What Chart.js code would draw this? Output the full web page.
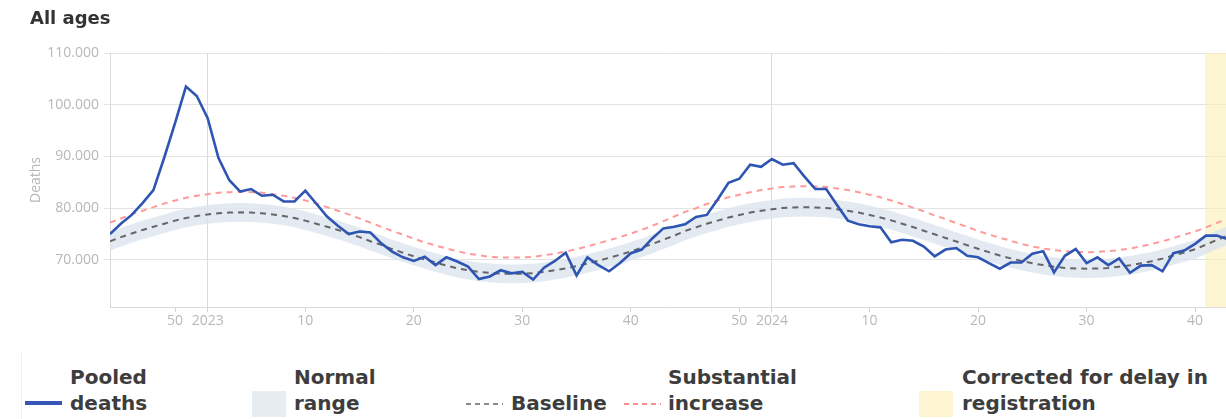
<!DOCTYPE html>
<html>
<head>
<meta charset="utf-8">
<script src="https://cdn.jsdelivr.net/npm/chart.js@4.4.1/dist/chart.umd.min.js"></script>
<style>
  body { margin: 0; background: #fff; width: 1226px; height: 419px; overflow: hidden; position: relative; }
  #wrap { position: absolute; left: 0; top: 0; width: 1226px; height: 345px; }
  #title { position: absolute; left: 30px; top: 7px; font: bold 18px/21px "DejaVu Sans", sans-serif; color: #333; }
  .leg { position: absolute; font: bold 20px/26px "DejaVu Sans", sans-serif; color: #3d3d3d; white-space: nowrap; }
  .box { position: absolute; top: 391px; width: 34px; height: 26px; }
  .sample { position: absolute; top: 399px; }
  #edge { position: absolute; left: 21px; top: 352px; width: 1px; height: 67px; background: #f1f1f1; }
</style>
</head>
<body>
<div id="wrap"><canvas id="chart"></canvas></div>
<div id="title">All ages</div>

<div id="edge"></div>
<svg class="sample" style="left:25px" width="38" height="10"><line x1="0" y1="4" x2="37" y2="4" stroke="#3556b8" stroke-width="4"/></svg>
<div class="leg" style="left:70px;top:364px">Pooled<br>deaths</div>
<div class="box" style="left:252px;background:#e8edf2"></div>
<div class="leg" style="left:294px;top:364px">Normal<br>range</div>
<svg class="sample" style="left:466px" width="38" height="10"><line x1="0" y1="5" x2="37" y2="5" stroke="#8a8a8a" stroke-width="2" stroke-dasharray="5,4"/></svg>
<div class="leg" style="left:511px;top:390px">Baseline</div>
<svg class="sample" style="left:624px" width="38" height="10"><line x1="0" y1="5" x2="37" y2="5" stroke="#ff8f8f" stroke-width="2" stroke-dasharray="5,4"/></svg>
<div class="leg" style="left:668px;top:364px">Substantial<br>increase</div>
<div class="box" style="left:919px;background:#fdf5d2"></div>
<div class="leg" style="left:962px;top:364px">Corrected for delay in<br>registration</div>

<script>
// weeks 2022-W44 .. 2024-W43, x value = position in this list
const weeks = [];
for (let i = 0; i < 104; i++) {
  if (i < 9) weeks.push("2022-W" + (44 + i));
  else if (i < 61) weeks.push("2023-W" + String(i - 8).padStart(2, "0"));
  else weeks.push("2024-W" + String(i - 60).padStart(2, "0"));
}
const tickIndex = [6, 9, 18, 28, 38, 48, 58, 61, 70, 80, 90, 100];
const tickLabels = ["50", "2023", "10", "20", "30", "40", "50", "2024", "10", "20", "30", "40"];
const yearStarts = [9, 61];
const yTicks = [70000, 80000, 90000, 100000, 110000];
const delayRange = [100.9, 103]; // weeks corrected for delay in registration

const pooledDeaths = [
  75000, 77000, 78700, 81000, 83500, 89800, 96500, 103500, 101700, 97400,
  89700, 85400, 83200, 83700, 82400, 82600, 81300, 81300, 83400, 80900,
  78400, 76600, 75000, 75500, 75300, 73200, 71600, 70500, 69800, 70600,
  69000, 70500, 69700, 68700, 66300, 66800, 68000, 67400, 67700, 66200,
  68500, 69800, 71400, 67000, 70500, 69000, 67800, 69400, 71300, 72000,
  74200, 76100, 76400, 76900, 78300, 78700, 81700, 84900, 85700, 88400,
  88000, 89500, 88400, 88700, 86100, 83700, 83700, 80600, 77600, 76900,
  76500, 76300, 73400, 73900, 73700, 72600, 70700, 72000, 72300, 70800,
  70500, 69400, 68300, 69500, 69500, 71200, 71700, 67600, 70800, 72100,
  69400, 70500, 69000, 70300, 67500, 68900, 69000, 67800, 71300, 71800,
  73100, 74700, 74700, 74000
];
const baseline = [
  73600, 74400, 75100, 75800, 76400, 77000, 77600, 78100, 78500, 78800,
  79000, 79150, 79200, 79150, 79000, 78800, 78500, 78100, 77600, 77000,
  76400, 75800, 75100, 74400, 73600, 72900, 72100, 71400, 70700, 70100,
  69500, 68900, 68400, 68000, 67700, 67500, 67350, 67300, 67350, 67450,
  67700, 68000, 68350, 68800, 69300, 69850, 70400, 71000, 71650, 72350,
  73100, 73900, 74700, 75600, 76300, 77000, 77600, 78200, 78700, 79150,
  79500, 79800, 80050, 80150, 80200, 80150, 80050, 79800, 79500, 79150,
  78700, 78200, 77650, 77000, 76350, 75650, 74950, 74250, 73550, 72850,
  72150, 71500, 70850, 70300, 69800, 69350, 69000, 68700, 68450, 68350,
  68300, 68350, 68450, 68700, 68950, 69350, 69750, 70250, 70850, 71450,
  72050, 72950, 73850, 74700
];
const substantialIncrease = [
  77200, 78000, 78800, 79500, 80200, 80900, 81500, 82000, 82400, 82700,
  83000, 83100, 83200, 83100, 83000, 82700, 82400, 82000, 81500, 80900,
  80200, 79500, 78800, 78000, 77200, 76400, 75600, 74900, 74100, 73400,
  72800, 72200, 71700, 71200, 70900, 70600, 70500, 70450, 70500, 70600,
  70900, 71200, 71600, 72100, 72600, 73200, 73800, 74400, 75100, 75800,
  76600, 77500, 78400, 79300, 80000, 80800, 81500, 82100, 82600, 83100,
  83500, 83800, 84100, 84200, 84250, 84200, 84100, 83800, 83500, 83100,
  82600, 82100, 81500, 80800, 80100, 79400, 78600, 77900, 77100, 76400,
  75600, 74900, 74300, 73700, 73100, 72600, 72200, 71900, 71700, 71550,
  71500, 71550, 71700, 71900, 72200, 72600, 73100, 73600, 74200, 74900,
  75500, 76300, 77150, 77950
];
const normalUpper = [
  75400, 76200, 76900, 77600, 78200, 78800, 79400, 79900, 80300, 80600,
  80800, 80950, 81000, 80950, 80800, 80600, 80300, 79900, 79400, 78800,
  78200, 77600, 76900, 76200, 75400, 74700, 73900, 73200, 72500, 71900,
  71300, 70700, 70200, 69800, 69500, 69300, 69150, 69100, 69150, 69250,
  69500, 69800, 70150, 70600, 71100, 71650, 72200, 72800, 73450, 74150,
  74900, 75700, 76500, 77400, 78100, 78800, 79400, 80000, 80500, 80950,
  81300, 81600, 81850, 81950, 82000, 81950, 81850, 81600, 81300, 80950,
  80500, 80000, 79450, 78800, 78150, 77450, 76750, 76050, 75350, 74650,
  73950, 73300, 72650, 72100, 71600, 71150, 70800, 70500, 70250, 70150,
  70100, 70150, 70250, 70500, 70750, 71150, 71550, 72050, 72650, 73250,
  73850, 74750, 75650, 76500
];
const normalLower = [
  71800, 72600, 73300, 74000, 74600, 75200, 75800, 76300, 76700, 77000,
  77200, 77350, 77400, 77350, 77200, 77000, 76700, 76300, 75800, 75200,
  74600, 74000, 73300, 72600, 71800, 71100, 70300, 69600, 68900, 68300,
  67700, 67100, 66600, 66200, 65900, 65700, 65550, 65500, 65550, 65650,
  65900, 66200, 66550, 67000, 67500, 68050, 68600, 69200, 69850, 70550,
  71300, 72100, 72900, 73800, 74500, 75200, 75800, 76400, 76900, 77350,
  77700, 78000, 78250, 78350, 78400, 78350, 78250, 78000, 77700, 77350,
  76900, 76400, 75850, 75200, 74550, 73850, 73150, 72450, 71750, 71050,
  70350, 69700, 69050, 68500, 68000, 67550, 67200, 66900, 66650, 66550,
  66500, 66550, 66650, 66900, 67150, 67550, 67950, 68450, 69050, 69650,
  70250, 71150, 72050, 72900
];

function toXY(arr) {
  return arr.map((v, i) => ({ x: i, y: v }));
}
function fmt(v) {
  return String(v).replace(/\B(?=(\d{3})+(?!\d))/g, ".");
}

Chart.defaults.font.family = "Open Sans";
const tickColor = "#b8b8b8";
const tickFont = { family: "Open Sans", size: 14 };

new Chart(document.getElementById("chart"), {
  type: "line",
  data: {
    datasets: [
      {
        label: "Pooled deaths",
        data: toXY(pooledDeaths),
        borderColor: "#2f55b2",
        borderWidth: 2.6,
        pointRadius: 0,
        fill: false,
        order: 0,
      },
      {
        label: "Substantial increase",
        data: toXY(substantialIncrease),
        borderColor: "#ff9a9a",
        borderWidth: 2,
        borderDash: [6, 5],
        pointRadius: 0,
        fill: false,
        order: 1,
      },
      {
        label: "Baseline",
        data: toXY(baseline),
        borderColor: "#666666",
        borderWidth: 2,
        borderDash: [6, 5],
        pointRadius: 0,
        fill: false,
        order: 2,
      },
      {
        label: "Normal range low",
        data: toXY(normalLower),
        borderColor: "transparent",
        borderWidth: 0,
        pointRadius: 0,
        fill: false,
        order: 4,
      },
      {
        label: "Normal range",
        data: toXY(normalUpper),
        borderColor: "transparent",
        borderWidth: 0,
        pointRadius: 0,
        fill: "-1",
        backgroundColor: "rgba(220,229,237,0.8)",
        order: 3,
      },
      {
        label: "Corrected for delay in registration",
        data: delayRange.map((x) => ({ x: x, y: yTicks[yTicks.length - 1] })),
        borderColor: "transparent",
        borderWidth: 0,
        pointRadius: 0,
        fill: "start",
        backgroundColor: "rgba(252,240,182,0.6)",
        order: 5,
      },
    ],
  },
  options: {
    responsive: true,
    maintainAspectRatio: false,
    animation: false,
    layout: { padding: { top: 53, left: 0, right: 0, bottom: 0 } },
    plugins: {
      legend: { display: false },
      tooltip: { enabled: false },
    },
    scales: {
      x: {
        type: "linear",
        min: 0,
        max: 102.85,
        afterBuildTicks: (s) => {
          s.ticks = tickIndex.map((v) => ({ value: v }));
        },
        afterFit: (s) => {
          s.height = 38;
        },
        ticks: {
          autoSkip: false,
          maxRotation: 0,
          padding: 1,
          color: tickColor,
          font: tickFont,
          callback: (v, i) => tickLabels[i],
        },
        grid: {
          color: (c) => (c.tick && yearStarts.includes(c.tick.value) ? "#dadada" : "transparent"),
          tickColor: "#d4d4d4",
          tickLength: 5,
        },
        border: { color: "#dadada" },
      },
      y: {
        min: 60900,
        max: 110000,
        afterBuildTicks: (s) => {
          s.ticks = yTicks.map((v) => ({ value: v }));
        },
        afterFit: (s) => {
          s.width = 110;
        },
        ticks: {
          padding: 5,
          color: tickColor,
          font: tickFont,
          callback: (v) => fmt(v),
        },
        grid: { color: "#e3e3e3", tickLength: 6 },
        border: { color: "#dadada" },
        title: {
          display: true,
          text: "Deaths",
          color: tickColor,
          font: tickFont,
          padding: { top: 28, bottom: 0 },
        },
      },
    },
  },
});
</script>
</body>
</html>
